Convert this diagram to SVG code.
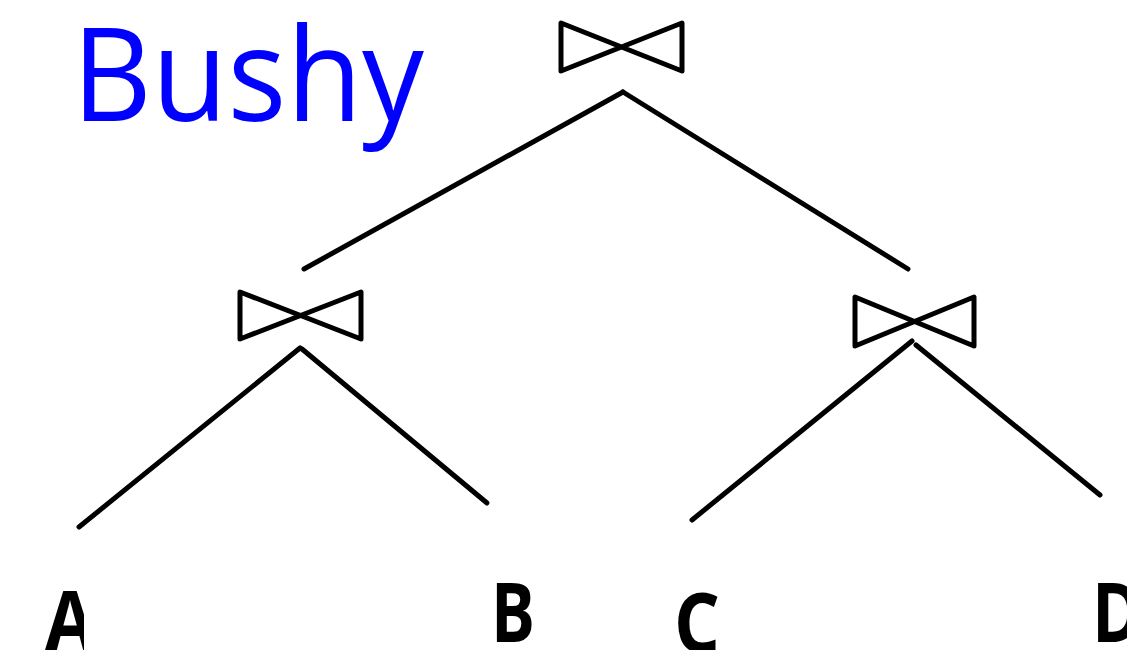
<svg xmlns="http://www.w3.org/2000/svg" width="1127" height="650" viewBox="0 0 1127 650">
  <style>
    .edge { stroke: #000; stroke-width: 5; fill: none; stroke-linecap: round; }
    .join { stroke: #000; stroke-width: 5; fill: none; stroke-linejoin: round; }
    .leaf { font-family: "Open Sans", "Liberation Sans", sans-serif; font-weight: bold; font-size: 82px; fill: #000; }
    .title { font-family: "Open Sans", "Liberation Sans", sans-serif; font-size: 130px; fill: #0000ff; }
  </style>
  <defs>
    <clipPath id="clipA"><rect x="0" y="0" width="84" height="650"/></clipPath>
  </defs>
  <rect width="1127" height="650" fill="#fff"/>

  <text class="title" x="72" y="121" textLength="352" lengthAdjust="spacingAndGlyphs">Bushy</text>

  <g id="connectors">
    <line class="edge" x1="623" y1="92" x2="304" y2="269"/>
    <line class="edge" x1="623" y1="92" x2="908" y2="269"/>
    <line class="edge" x1="300" y1="348" x2="79" y2="527"/>
    <line class="edge" x1="302" y1="349" x2="487" y2="503"/>
    <line class="edge" x1="912" y1="341" x2="692" y2="520"/>
    <line class="edge" x1="916" y1="345" x2="1100" y2="495"/>
  </g>

  <g id="join-root">
    <path class="join" d="M561,23 L561,71 L682,23 L682,71 Z"/>
  </g>
  <g id="join-left">
    <path class="join" d="M240,292 L240,339 L361,292 L361,339 Z"/>
  </g>
  <g id="join-right">
    <path class="join" d="M855,297 L855,346 L974,297 L974,346 Z"/>
  </g>

  <g id="leaf-A"><text class="leaf" x="45" y="650" textLength="50" lengthAdjust="spacingAndGlyphs" clip-path="url(#clipA)">A</text></g>
  <g id="leaf-B"><text class="leaf" x="491" y="642" textLength="44" lengthAdjust="spacingAndGlyphs">B</text></g>
  <g id="leaf-C"><text class="leaf" x="674" y="652" textLength="46" lengthAdjust="spacingAndGlyphs">C</text></g>
  <g id="leaf-D"><text class="leaf" x="1092" y="642" textLength="50" lengthAdjust="spacingAndGlyphs">D</text></g>
</svg>
